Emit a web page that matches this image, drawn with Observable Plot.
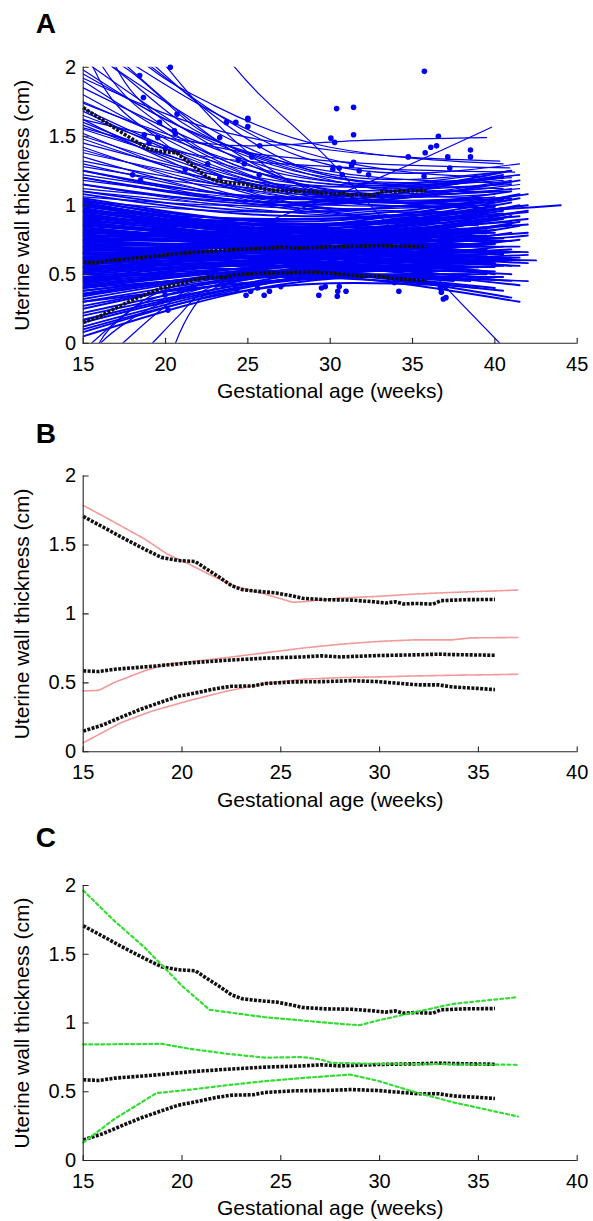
<!DOCTYPE html>
<html>
<head>
<meta charset="utf-8">
<script src="https://cdn.jsdelivr.net/npm/d3@7"></script>
<script src="https://cdn.jsdelivr.net/npm/@observablehq/plot@0.6"></script>
<style>
  html, body { margin: 0; padding: 0; background: #fff; }
  #wrap { width: 593px; }
  #wrap svg { display: block; }
</style>
</head>
<body>
<div id="wrap"></div>
<script>
// ---------- tick labels & texts ----------
const xTicksA = [15, 20, 25, 30, 35, 40, 45];
const xTicksBC = [15, 20, 25, 30, 35, 40];
const yTicks = [0, 0.5, 1, 1.5, 2];
const xLabel = "Gestational age (weeks)";
const yLabel = "Uterine wall thickness (cm)";
const panelLetters = ["A", "B", "C"];

// ---------- panel A: individual subject curves (start at 15 weeks) ----------
// band of subjects: thickness at 15 wk, at mid-point, last scan week, thickness at last scan
const bandStartCm = [0.05,0.08,0.10,0.12,0.15,0.17,0.20,0.22,0.25,0.27,
 0.30,0.32,0.34,0.36,0.38,0.40,0.41,0.43,0.44,0.46,
 0.47,0.48,0.50,0.51,0.52,0.53,0.54,0.55,0.56,0.57,
 0.58,0.59,0.60,0.61,0.62,0.63,0.64,0.65,0.66,0.67,
 0.68,0.69,0.70,0.71,0.72,0.73,0.74,0.75,0.76,0.77,
 0.78,0.79,0.80,0.81,0.82,0.83,0.84,0.85,0.86,0.87,
 0.88,0.89,0.90,0.91,0.92,0.93,0.94,0.95,0.96,0.97,
 0.98,0.99,1.00,1.01,1.02,1.03,1.04,1.05,0.45,0.60,
 0.55,0.70,0.50,0.65,0.40,1.10,1.15,1.20,1.25,1.08,
 0.90,0.62,0.35,0.45,0.55,0.65,0.75,0.85,0.95,0.58,
 0.68,0.78,0.48,0.52,0.62,0.72,0.82,0.92,1.00,0.30,
 0.38,0.42,0.70,0.80,0.88,0.96,0.66,0.74,0.86,1.02];
const bandMidCm = [0.42,0.45,0.40,0.47,0.44,0.50,0.46,0.52,0.48,0.55,
 0.50,0.56,0.52,0.58,0.50,0.55,0.60,0.52,0.57,0.62,
 0.55,0.60,0.58,0.64,0.56,0.62,0.60,0.66,0.58,0.63,
 0.65,0.60,0.67,0.62,0.66,0.70,0.63,0.68,0.65,0.72,
 0.66,0.70,0.64,0.73,0.68,0.75,0.70,0.66,0.74,0.70,
 0.76,0.68,0.74,0.78,0.72,0.76,0.70,0.78,0.74,0.80,
 0.72,0.78,0.76,0.82,0.74,0.80,0.78,0.84,0.76,0.82,
 0.80,0.86,0.78,0.84,0.82,0.88,0.80,0.86,0.50,0.55,
 0.52,0.58,0.50,0.60,0.48,0.95,1.00,1.02,1.05,0.92,
 0.90,0.62,0.52,0.58,0.64,0.70,0.74,0.80,0.86,0.68,
 0.74,0.80,0.52,0.60,0.64,0.70,0.76,0.80,0.84,0.46,
 0.54,0.56,0.76,0.84,0.86,0.90,0.62,0.66,0.72,0.78];
const bandEndWeek = [38.5,39.0,37.0,40.0,38.0,41.0,39.5,40.5,37.5,41.5,
 39.0,40.0,38.0,41.0,40.0,39.0,41.5,38.5,40.5,39.5,
 41.0,37.5,40.0,41.5,39.0,40.5,38.0,41.0,40.0,39.5,
 42.0,38.5,40.5,41.0,39.0,41.5,40.0,38.0,41.0,40.5,
 39.5,42.0,40.0,41.0,38.5,40.5,41.5,39.0,40.0,42.0,
 41.0,39.5,40.5,41.5,38.0,40.0,41.0,42.0,39.0,40.5,
 41.5,40.0,38.5,41.0,40.0,42.0,39.5,41.5,40.5,41.0,
 39.0,42.0,40.0,41.5,38.0,40.5,41.0,42.0,41.5,41.0,
 40.5,41.5,42.0,40.0,39.0,41.0,41.5,40.5,41.0,42.0,
 44.0,42.5,38.0,36.5,37.0,36.0,37.5,36.5,37.0,39.0,
 39.5,40.0,40.5,41.0,41.5,40.0,39.5,40.5,39.0,40.5,
 41.5,42.0,42.0,41.5,40.5,41.0,41.5,42.0,41.0,40.5];
const bandEndCm = [0.50,0.55,0.42,0.60,0.48,0.66,0.50,0.70,0.45,0.75,
 0.52,0.72,0.55,0.80,0.40,0.62,0.85,0.45,0.65,0.82,
 0.50,0.70,0.58,0.88,0.48,0.74,0.62,0.92,0.52,0.68,
 0.78,0.55,0.85,0.60,0.72,0.95,0.58,0.75,0.62,0.90,
 0.64,0.80,0.50,0.86,0.66,0.98,0.70,0.55,0.82,0.66,
 0.92,0.52,0.76,1.00,0.62,0.84,0.56,0.90,0.70,0.96,
 0.60,0.80,0.72,1.02,0.62,0.86,0.78,1.05,0.66,0.88,
 0.82,1.00,0.70,0.92,0.85,1.04,0.74,0.95,0.30,0.33,
 0.38,0.42,0.45,0.46,0.40,1.10,1.18,1.22,1.25,1.08,
 1.00,0.60,0.58,0.64,0.72,0.76,0.78,0.80,0.90,0.88,
 0.94,0.99,0.56,0.68,0.66,0.72,0.74,0.76,0.80,0.48,
 0.62,0.64,0.96,1.08,0.94,0.98,0.56,0.58,0.60,0.64];

// subjects with thick walls early on
const upperStartCm = [1.10,1.12,1.15,1.18,1.20,1.22,1.25,1.28,1.30,1.32,
 1.35,1.38,1.40,1.42,1.45,1.48,1.50,1.52,1.55,1.58,
 1.60,1.62,1.65,1.68,1.70,1.75,1.80,1.85,1.90,1.95,
 2.05,2.15,2.30,2.50,2.40,2.80,1.03,1.06];
const upperMidCm = [0.98,1.02,0.95,1.04,1.00,1.06,0.98,1.08,1.02,1.10,
 1.00,1.12,1.05,1.00,1.14,1.06,1.10,1.02,1.16,1.08,
 1.12,1.05,1.18,1.10,1.14,1.20,1.12,1.22,1.15,1.25,
 1.18,1.28,1.20,1.30,1.35,1.25,0.95,1.00];
const upperEndWeek = [40.0,41.0,39.5,41.5,40.0,40.5,39.0,41.0,40.0,41.5,
 38.5,40.5,41.0,39.0,41.0,40.0,41.5,39.5,40.5,41.0,
 40.0,38.0,41.0,40.5,39.5,41.5,40.0,41.0,38.5,40.5,
 40.0,41.0,39.0,40.5,41.5,38.0,40.0,41.0];
const upperEndCm = [1.00,1.12,0.90,1.15,0.95,1.20,0.85,1.10,1.02,1.22,
 0.90,1.15,1.05,0.88,1.25,1.00,1.12,0.92,1.18,1.04,
 1.10,0.95,1.20,1.05,1.12,1.22,1.02,1.15,1.05,1.20,
 1.08,1.25,1.05,1.20,1.30,1.00,1.06,1.18];

// individual curves read point by point: [week, cm]
const traceCurves = [
  [[23.2,2.15],[24.2,2.0],[30,1.32],[35,0.66],[40.3,0.0]],
  [[20,0.62],[27,0.92],[33,1.2],[39.8,1.565]],
  [[15,1.62],[25,1.43],[32,1.47],[39.5,1.49]],
  [[15,1.92],[22,1.58],[30,1.4],[40.3,1.32]],
  [[15,1.74],[22,1.45],[30,1.32],[40.9,1.27]],
  [[15,1.56],[22,1.36],[30,1.28],[41.2,1.24]],
  [[15,2.35],[15.6,2.0],[19.7,1.47],[25,1.15],[33,1.0],[40,0.98]],
  [[15,2.25],[16.2,2.0],[20.5,1.52],[26,1.22],[33,1.08],[41,1.05]],
  [[15,2.15],[16.8,2.0],[21,1.6],[27,1.3],[34,1.15],[40.5,1.12]],
  [[16,2.1],[17.5,2.0],[22,1.55],[28,1.25],[35,1.1],[41,1.1]],
  [[17,2.1],[18.3,2.0],[22.5,1.7],[28,1.4],[34,1.25],[40,1.2]],
  [[18,2.1],[19,2.0],[23,1.72],[30,1.42],[40.5,1.3]],
  [[15,2.6],[17,2.0],[20,1.6],[24,1.3],[30,1.15],[38,1.1]],
  [[15,1.98],[20,1.62],[26,1.35],[33,1.2],[41,1.16]],
  [[15,-0.15],[16.05,0],[18,0.18],[20.3,0.32],[25,0.46],[31,0.52],[38,0.55]],
  [[16,-0.15],[17.4,0],[19.5,0.22],[21.7,0.41],[26,0.5],[32,0.55],[39,0.57]],
  [[18,-0.15],[19.2,0],[20.8,0.2],[22.3,0.38],[26,0.5],[33,0.55],[40,0.55]],
  [[20.3,-0.1],[20.6,0],[21.7,0.26],[23,0.4],[26,0.48],[32,0.52],[38.5,0.52]],
  [[15,-0.25],[15.96,0],[17.5,0.2],[19.6,0.37],[24,0.48],[30,0.53],[37,0.56]],
  [[15,-0.05],[15.5,0],[18,0.25],[21,0.38],[26,0.45],[33,0.48],[41,0.45]]
];

// measured points
const dotWeek = [20.29,35.72,18.43,18.66,20.70,30.39,31.42,31.42,30.04,30.27,
 23.7,24.27,25.0,25.0,25.0,23.29,18.71,19.63,20.54,20.59,
 19.0,19.53,25.72,36.57,36.46,36.11,35.77,38.52,38.52,37.14,
 34.74,37.26,31.42,31.3,30.55,30.16,30.73,31.76,32.33,35.7,
 19.99,21.2,22.56,24.78,25.24,25.69,24.43,23.3,18.0,18.48,
 29.31,30.43,30.46,30.55,30.96,29.47,29.7,34.17,36.87,37.03,
 36.75,36.69,24.89,25.99,26.31,25.17,20.15,19.97,19.74,24.25,
 24.32,27.0,25.58,23.52,21.69,37.0,33.9];
const dotCm = [2.0,1.97,1.94,1.78,1.66,1.70,1.71,1.51,1.486,1.455,
 1.6,1.6,1.63,1.62,1.57,1.49,1.51,1.6,1.54,1.52,
 1.45,1.49,1.43,1.50,1.43,1.42,1.38,1.40,1.35,1.35,
 1.35,1.27,1.31,1.29,1.27,1.26,1.22,1.25,1.22,1.21,
 1.41,1.26,1.30,1.30,1.35,1.22,1.33,1.2,1.22,1.18,
 0.347,0.34,0.376,0.41,0.376,0.40,0.41,0.376,0.32,0.33,
 0.37,0.40,0.347,0.347,0.376,0.376,0.24,0.35,0.30,0.41,
 0.39,0.41,0.40,0.42,0.40,0.41,0.44];

// ---------- reference centiles (black dotted) ----------
const p95Week = [15,16,17.1,18.1,18.95,19.8,20.67,21.24,21.9,22.5,23.05,23.8,24.77,25.6,26.1,27.25,28.6,29.7,30.3,30.8,31.2,31.8,32.7,33.1,34.3,35.84];
const p95Cm = [1.707,1.63,1.544,1.47,1.41,1.387,1.38,1.326,1.265,1.205,1.176,1.164,1.152,1.13,1.113,1.103,1.1,1.088,1.079,1.088,1.072,1.076,1.071,1.096,1.103,1.105];
const p50Week = [15,15.8,16.6,18.5,20.4,22.3,24.2,26.1,27.06,28,29.9,31.8,33,33.7,35.84];
const p50Cm = [0.587,0.582,0.599,0.62,0.645,0.664,0.679,0.688,0.696,0.688,0.698,0.703,0.708,0.705,0.70];
const p5Week = [15,16,16.9,17.9,18.85,19.8,20.76,21.7,22.5,23.6,24.2,25.7,27.25,28.6,29.9,31.1,32,33,33.7,34.9,35.84];
const p5Cm = [0.15,0.195,0.25,0.308,0.356,0.402,0.429,0.458,0.475,0.478,0.495,0.507,0.509,0.516,0.509,0.495,0.485,0.485,0.47,0.46,0.451];

// ---------- panel B: pink comparison centiles ----------
const pinkUpperWeek = [15,16.56,18.1,19.24,20.4,21.5,22.67,24.2,25.6,26.1,28,29.9,31.8,33.7,37];
const pinkUpperCm = [1.787,1.666,1.544,1.435,1.358,1.278,1.2,1.144,1.084,1.088,1.115,1.127,1.144,1.156,1.173];
const pinkMidWeek = [15,15.8,16.56,18.1,19.24,20.4,22.3,24.2,26.1,28,29.9,31.8,33.7,34.6,37];
const pinkMidCm = [0.441,0.446,0.502,0.587,0.635,0.652,0.684,0.718,0.752,0.78,0.8,0.812,0.812,0.826,0.829];
const pinkLowerWeek = [15,15.8,16.9,18.5,20.4,22.3,24.2,26.1,28,29.9,31.8,33.7,37];
const pinkLowerCm = [0.065,0.126,0.211,0.296,0.373,0.441,0.495,0.526,0.538,0.543,0.55,0.555,0.562];

// ---------- panel C: green comparison centiles ----------
const greenUpperWeek = [15,16.56,18.1,18.85,20,21.4,24.2,26.1,28,28.97,29.9,31.8,33.7,37];
const greenUpperCm = [1.964,1.745,1.55,1.44,1.27,1.096,1.042,1.018,0.994,0.984,1.018,1.079,1.139,1.188];
const greenMidWeek = [15,19.0,20.4,22.3,24.2,26.1,27.0,27.6,29.9,33.7,37];
const greenMidCm = [0.844,0.848,0.812,0.776,0.748,0.752,0.735,0.71,0.703,0.70,0.696];
const greenLowerWeek = [15,16.56,18.7,20.4,22.3,24.2,26.1,28.5,29.9,31.8,33.7,35.6,37];
const greenLowerCm = [0.13,0.30,0.49,0.515,0.548,0.577,0.60,0.625,0.58,0.497,0.424,0.364,0.32];

// ---------- build tables ----------
const toRows = (id, weeks, cms) => weeks.map((w, i) => ({id, week: w, cm: cms[i]}));
function fanTable(start, mid, endW, endC, prefix) {
  const rows = [];
  start.forEach((y0, i) => {
    const id = prefix + i;
    rows.push({id, week: 15, cm: y0});
    rows.push({id, week: (15 + endW[i]) / 2, cm: mid[i]});
    rows.push({id, week: endW[i], cm: endC[i]});
  });
  return rows;
}
const bandRows = fanTable(bandStartCm, bandMidCm, bandEndWeek, bandEndCm, "b");
const upperRows = fanTable(upperStartCm, upperMidCm, upperEndWeek, upperEndCm, "u");
const traceRows = traceCurves.flatMap((pts, k) => pts.map(([w, c]) => ({id: "t" + k, week: w, cm: c})));
const dotRows = dotWeek.map((w, i) => ({week: w, cm: dotCm[i]}));
const blackRows = [
  ...toRows("p95", p95Week, p95Cm),
  ...toRows("p50", p50Week, p50Cm),
  ...toRows("p5", p5Week, p5Cm)
];
const pinkRows = [
  ...toRows("u", pinkUpperWeek, pinkUpperCm),
  ...toRows("m", pinkMidWeek, pinkMidCm),
  ...toRows("l", pinkLowerWeek, pinkLowerCm)
];
const greenRows = [
  ...toRows("u", greenUpperWeek, greenUpperCm),
  ...toRows("m", greenMidWeek, greenMidCm),
  ...toRows("l", greenLowerWeek, greenLowerCm)
];

// ---------- styling ----------
const FONT = "'Liberation Sans', Arial, Helvetica, sans-serif";
const BLUE = "#0000f2";
const AXIS = "#262626";
const tickUp = {draw(context, l) { context.moveTo(0, 0); context.lineTo(0, -l); }};

const blackLine = Plot.line(blackRows, {x: "week", y: "cm", z: "id", stroke: "#111", strokeWidth: 3.6, strokeDasharray: "3,1.4", strokeLinecap: "butt"});

function panel({data, xDomain, xTicks, height, marginTop, marginBottom, letter, letterDy}) {
  return Plot.plot({
    width: 593, height, marginTop, marginBottom, marginLeft: 82.7, marginRight: 16.3,
    style: {fontFamily: FONT, fontSize: "20px", color: "#000", background: "#fff"},
    x: {domain: xDomain},
    y: {domain: [0, 2]},
    marks: [
      ...data,
      Plot.ruleY([0], {stroke: AXIS, strokeWidth: 1.1}),
      Plot.ruleX([xDomain[0]], {stroke: AXIS, strokeWidth: 1.1}),
      // inward tick marks
      Plot.vector(xTicks, {x: d => d, y: 0, length: 5, rotate: 0, anchor: "start", shape: tickUp, stroke: AXIS, strokeWidth: 1.1}),
      Plot.vector(yTicks, {x: xDomain[0], y: d => d, length: 5, rotate: 90, anchor: "start", shape: tickUp, stroke: AXIS, strokeWidth: 1.1}),
      Plot.axisX(xTicks, {tickSize: 0, tickPadding: 13.3, tickFormat: d => String(d), label: null, fill: "#000", fontSize: 20}),
      Plot.axisY(yTicks, {tickSize: 0, tickPadding: 7, tickFormat: d => String(d), label: null, fill: "#000", fontSize: 20}),
      Plot.text([xLabel], {text: d => d, frameAnchor: "bottom", lineAnchor: "middle", textAnchor: "middle", dy: 48, fontSize: 21, fill: "#000"}),
      Plot.text([yLabel], {text: d => d, frameAnchor: "left", lineAnchor: "middle", textAnchor: "middle", dx: -60.5, rotate: -90, fontSize: 21, fill: "#000"}),
      Plot.text([letter], {text: d => d, frameAnchor: "top-left", textAnchor: "start", lineAnchor: "top", dx: -47.5, dy: letterDy, fontSize: 28, fontWeight: "bold", fill: "#000"})
    ]
  });
}

const wrap = document.getElementById("wrap");

wrap.appendChild(panel({
  data: [
    Plot.line(bandRows, {x: "week", y: "cm", z: "id", curve: "natural", stroke: BLUE, strokeWidth: 1.9, clip: true}),
    Plot.line(upperRows, {x: "week", y: "cm", z: "id", curve: "natural", stroke: BLUE, strokeWidth: 1.2, clip: true}),
    Plot.line(traceRows, {x: "week", y: "cm", z: "id", curve: "monotone-x", stroke: BLUE, strokeWidth: 1.2, clip: true}),
    Plot.dot(dotRows, {x: "week", y: "cm", r: 2.8, fill: BLUE, stroke: null}),
    blackLine
  ],
  xDomain: [15, 45], xTicks: xTicksA, height: 410, marginTop: 66.7, marginBottom: 67.3,
  letter: panelLetters[0], letterDy: -53.7
}));

wrap.appendChild(panel({
  data: [
    Plot.line(pinkRows, {x: "week", y: "cm", z: "id", stroke: "#f29a9a", strokeWidth: 1.6, strokeDasharray: "1.6,0.6"}),
    blackLine
  ],
  xDomain: [15, 40], xTicks: xTicksBC, height: 410, marginTop: 65.5, marginBottom: 68.7,
  letter: panelLetters[1], letterDy: -52.5
}));

wrap.appendChild(panel({
  data: [
    blackLine,
    Plot.line(greenRows, {x: "week", y: "cm", z: "id", stroke: "#33dd33", strokeWidth: 2.2, strokeDasharray: "3,3"})
  ],
  xDomain: [15, 40], xTicks: xTicksBC, height: 401, marginTop: 65, marginBottom: 61,
  letter: panelLetters[2], letterDy: -58
}));
</script>
</body>
</html>
